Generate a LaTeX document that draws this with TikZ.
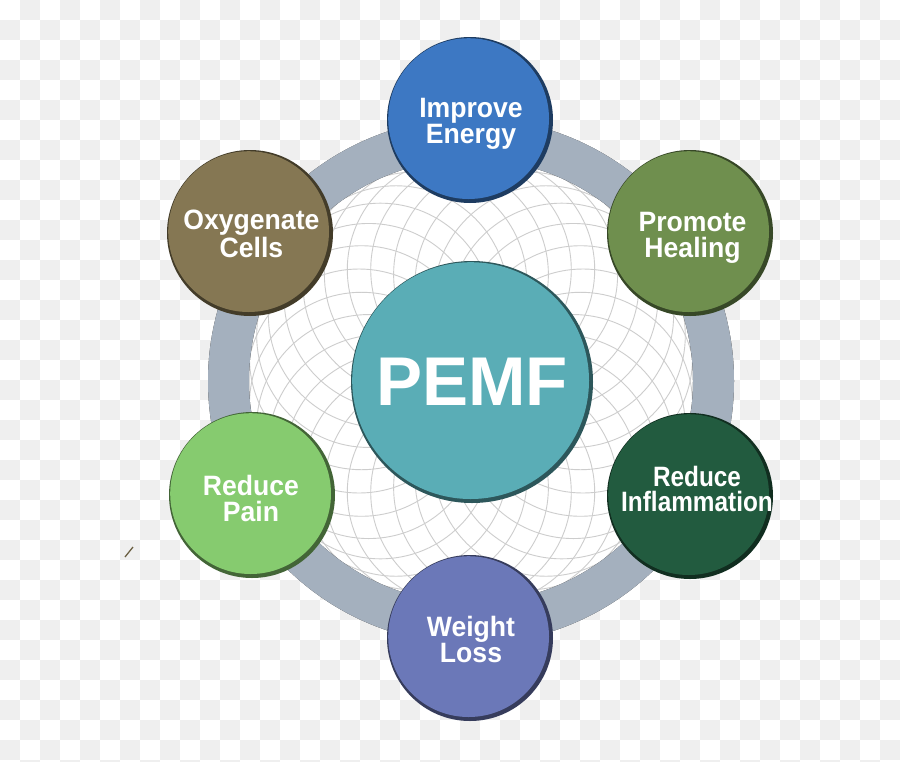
\documentclass[tikz,border=0pt]{standalone}
\usepackage{fontspec}
\newfontfamily\bubfont[FakeStretch=0.95]{Liberation Sans Bold}
\newfontfamily\bubnarrow[FakeStretch=0.87]{Liberation Sans Bold}
\newfontfamily\pemffont{Liberation Sans Bold}
\definecolor{chk}{HTML}{EFEFEF}
\definecolor{ringc}{HTML}{A4B0BE}
\definecolor{meshc}{HTML}{CDCDCD}
\definecolor{cEnergy}{HTML}{3D78C3}
\definecolor{cHeal}{HTML}{6F8F4E}
\definecolor{cInflam}{HTML}{225B3F}
\definecolor{cWeight}{HTML}{6B78B8}
\definecolor{cPain}{HTML}{86CB6F}
\definecolor{cOxy}{HTML}{857753}
\definecolor{cPemf}{HTML}{5AADB6}
\tikzset{
  bub/.style 2 args={circle, minimum size=#2, inner sep=0pt, text=white, align=center,
    fill=#1!50!black,
    path picture={\fill[#1] ([shift={(-1.4pt,1.4pt)}]path picture bounding box.center) circle ({#2/2-2.6pt});}},
  small/.style={bub={#1}{166pt}},
  lbl/.style={text=white, align=center, anchor=base, inner sep=0pt,
    font=\bubfont\fontsize{28}{#1}\selectfont},
}
\begin{document}
\begin{tikzpicture}[x=1pt,y=-1pt]
\useasboundingbox (0,0) rectangle (900,761);
% checkerboard background
\begin{scope}
\clip (0,0) rectangle (900,761);
\fill[white] (0,0) rectangle (900,761);
\foreach \i in {0,...,44}{
  \foreach \k in {0,...,19}{
    \pgfmathtruncatemacro\jj{2*\k+mod(\i+1,2)}
    \fill[chk] (20*\i,20*\jj) rectangle ++(20,20);
  }
}
\end{scope}
\draw[color=cOxy!80!black, line width=1.3pt] (125,557) -- (133,547);
% inner disk with mesh
\coordinate (C) at (471,381);
\fill[white] (C) circle (223);
\begin{scope}
\clip (C) circle (223);
\foreach \a in {0,12,...,348}
  \draw[meshc, line width=0.9pt, shift={(471,381)}] (\a:112) circle (112);
\end{scope}
% ring shadow and ring
\foreach \s/\o in {7/0.12,5/0.2,3.5/0.3,2/0.4}
  \fill[black, opacity=\o, even odd rule, shift={(\s,\s)}] (C) circle (263) (C) circle (222);
\fill[ringc, even odd rule] (C) circle (263) (C) circle (222);
% bubbles
\node[bub={cPemf}{242pt}, font=\pemffont\fontsize{69}{69}\selectfont] (pemf) at (472,382) {PEMF};
\node[small=cEnergy] (energy) at (470,120) {};
\node[small=cHeal]   (heal)   at (690,233) {};
\node[small=cOxy]    (oxy)    at (250,233) {};
\node[small=cPain]   (pain)   at (252,495) {};
\node[small=cInflam] (inflam) at (690,496) {};
\node[small=cWeight] (weight) at (470,638) {};
% labels (anchored on the baseline of the last line)
\node[lbl=25]   (energy-t) at (471,143.3) {Improve\\Energy};
\node[lbl=26]   (heal-t)   at (692.5,257) {Promote\\Healing};
\node[lbl=26]   (oxy-t)    at (251.4,257) {Oxygenate\\Cells};
\node[lbl=26.7] (pain-t)   at (251,521.7) {Reduce\\Pain};
\node[lbl=25, font=\bubnarrow\fontsize{28}{25}\selectfont] (inflam-t) at (697,511) {Reduce\\Inflammation};
\node[lbl=26]   (weight-t) at (471,662.7) {Weight\\Loss};
\end{tikzpicture}
\end{document}
